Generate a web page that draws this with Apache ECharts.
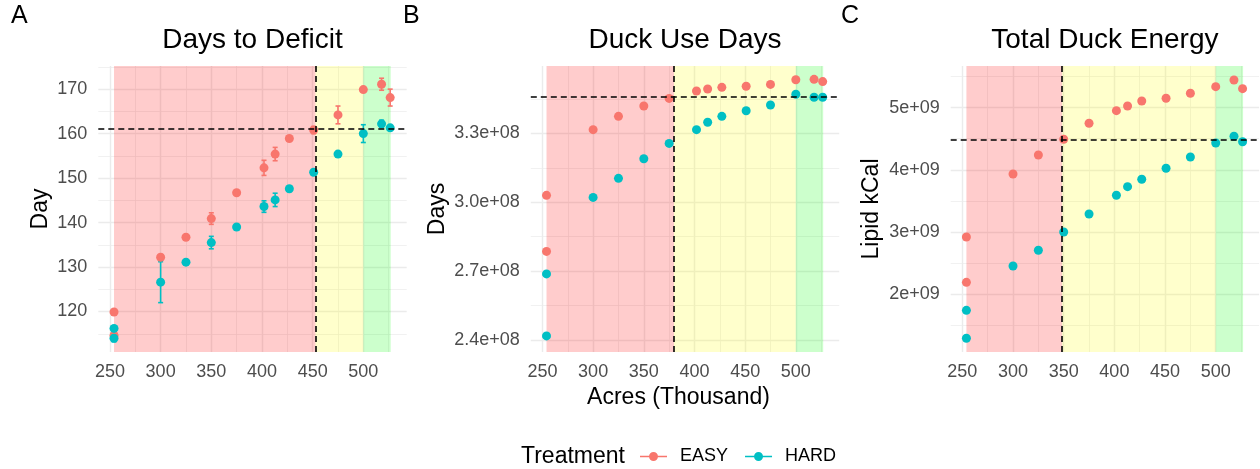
<!DOCTYPE html>
<html><head><meta charset="utf-8">
<script src="https://cdn.jsdelivr.net/npm/echarts@6/dist/echarts.min.js"></script>
<style>html,body{margin:0;padding:0;background:#fff}#c{width:1260px;height:469px}</style>
</head><body><div id="c"></div>
<script>
// ---------- data ----------
const acres = [254, 254, 300, 325, 350, 375, 402, 413, 427, 451, 475, 500, 518, 526.5];

const deficitEasy    = [119.9, 114.6, 132.2, 136.7, 140.9, 146.7, 152.3, 155.4, 158.9, 160.8, 164.2, 169.9, 171.1, 168.1];
const deficitEasyErr = [0.4, 1.0, 0.5, 0.5, 1.3, 0.5, 1.7, 1.5, 0.6, 0.8, 2.0, 0.5, 1.35, 1.9];
const deficitHard    = [116.2, 114.0, 126.6, 131.1, 135.5, 139.0, 143.6, 145.1, 147.6, 151.3, 155.4, 160.0, 162.2, 161.3];
const deficitHardErr = [0.5, 0.8, 4.6, 0.5, 1.4, 0.5, 1.3, 1.5, 0.6, 0.5, 0.5, 2.0, 0.8, 0.5];

const useDaysEasy = [3.030e8, 2.786e8, 3.316e8, 3.374e8, 3.419e8, 3.452e8, 3.484e8, 3.493e8, 3.500e8, 3.505e8, 3.513e8, 3.533e8, 3.535e8, 3.525e8];
const useDaysHard = [2.688e8, 2.418e8, 3.021e8, 3.104e8, 3.189e8, 3.256e8, 3.316e8, 3.348e8, 3.374e8, 3.398e8, 3.423e8, 3.470e8, 3.457e8, 3.457e8];

const energyEasy = [2.918e9, 2.188e9, 3.932e9, 4.238e9, 4.491e9, 4.749e9, 4.952e9, 5.027e9, 5.108e9, 5.151e9, 5.232e9, 5.338e9, 5.446e9, 5.306e9];
const energyHard = [1.737e9, 1.287e9, 2.451e9, 2.704e9, 2.998e9, 3.288e9, 3.589e9, 3.728e9, 3.847e9, 4.024e9, 4.206e9, 4.432e9, 4.539e9, 4.452e9];

// thresholds (dashed lines) and shaded zones
const thresholdX = [452.8, 379.8, 348.5];
const thresholdY = [161.1, 3.459e8, 4.48e9];
const zoneStart = 254, zoneMid = 500, zoneEnd = 527;

// axes
const xRange = [238.5, 542.8];
const xTicks = [250, 300, 350, 400, 450, 500];
const xMinor = [275, 325, 375, 425, 475, 525];
const yRanges = [[110.9, 175.2], [2.348e8, 3.593e8], [1.066e9, 5.671e9]];
const yTicks = [
  [120, 130, 140, 150, 160, 170],
  [2.4e8, 2.7e8, 3.0e8, 3.3e8],
  [2e9, 3e9, 4e9, 5e9]
];
const yTickLabels = [
  ['120', '130', '140', '150', '160', '170'],
  ['2.4e+08', '2.7e+08', '3.0e+08', '3.3e+08'],
  ['2e+09', '3e+09', '4e+09', '5e+09']
];
const yMinor = [
  [115, 125, 135, 145, 155, 165, 175],
  [2.55e8, 2.85e8, 3.15e8, 3.45e8],
  [1.5e9, 2.5e9, 3.5e9, 4.5e9, 5.5e9]
];
const titles = ['Days to Deficit', 'Duck Use Days', 'Total Duck Energy'];
const panelLetters = ['A', 'B', 'C'];
const yNames = ['Day', 'Days', 'Lipid kCal'];
const treatments = ['EASY', 'HARD'];

// ---------- layout / style ----------
const FONT = 'Liberation Sans, Arial, sans-serif';
const COLORS = {EASY: '#F8766D', HARD: '#00BFC4'};
const panels = [
  {left: 98.3, top: 66, width: 308.4, height: 286, yGap: 46, letterX: 11},
  {left: 530.8, top: 66, width: 308.4, height: 286, yGap: 82, letterX: 403},
  {left: 950.7, top: 66, width: 308.4, height: 286, yGap: 68, letterX: 841}
];
const seriesData = [
  [deficitEasy, deficitHard],
  [useDaysEasy, useDaysHard],
  [energyEasy, energyHard]
];
const errData = [[deficitEasyErr, deficitHardErr], null, null];

const grid = panels.map(p => ({left: p.left, top: p.top, width: p.width, height: p.height}));
const xAxis = [], yAxis = [];
panels.forEach((p, i) => {
  xAxis.push({
    type: 'value', gridIndex: i, min: xRange[0], max: xRange[1],
    axisLine: {show: false},
    axisTick: {show: false, customValues: xTicks},
    axisLabel: {customValues: xTicks, fontSize: 18, color: '#4D4D4D', fontFamily: FONT, margin: 11.5},
    splitLine: {show: true, lineStyle: {color: '#EBEBEB', width: 1.4}},
    name: i === 1 ? 'Acres (Thousand)' : '',
    nameLocation: 'middle', nameGap: 32,
    nameTextStyle: {fontSize: 23, color: '#000', fontFamily: FONT, padding: [0, 13, 0, 0]}
  });
  yAxis.push({
    type: 'value', gridIndex: i, min: yRanges[i][0], max: yRanges[i][1],
    axisLine: {show: false},
    axisTick: {show: false, customValues: yTicks[i]},
    axisLabel: {
      customValues: yTicks[i], fontSize: 18, color: '#4D4D4D', fontFamily: FONT, margin: 11,
      formatter: (v) => { const k = yTicks[i].indexOf(v); return k >= 0 ? yTickLabels[i][k] : ''; }
    },
    splitLine: {show: true, lineStyle: {color: '#EBEBEB', width: 1.4}},
    name: yNames[i], nameLocation: 'middle', nameGap: p.yGap,
    nameTextStyle: {fontSize: 23, color: '#000', fontFamily: FONT}
  });
});
// minor grid axes
panels.forEach((p, i) => {
  xAxis.push({
    type: 'value', gridIndex: i, min: xRange[0], max: xRange[1], position: 'bottom',
    axisLine: {show: false}, axisLabel: {show: false},
    axisTick: {show: false, customValues: xMinor},
    splitLine: {show: true, lineStyle: {color: '#EBEBEB', width: 0.7}}
  });
  yAxis.push({
    type: 'value', gridIndex: i, min: yRanges[i][0], max: yRanges[i][1], position: 'left',
    axisLine: {show: false}, axisLabel: {show: false},
    axisTick: {show: false, customValues: yMinor[i]},
    splitLine: {show: true, lineStyle: {color: '#EBEBEB', width: 0.7}}
  });
});

const series = [];
panels.forEach((p, i) => {
  treatments.forEach((t, k) => {
    const vals = seriesData[i][k];
    const s = {
      type: 'scatter', name: t, xAxisIndex: i, yAxisIndex: i, z: 3,
      symbol: 'circle', symbolSize: 9, color: COLORS[t],
      itemStyle: {color: COLORS[t], opacity: 1},
      data: acres.map((x, j) => [x, vals[j]])
    };
    if (k === 0) {
      s.markArea = {
        silent: true,
        data: [
          [{xAxis: zoneStart, itemStyle: {color: 'rgba(255,0,0,0.2)'}}, {xAxis: thresholdX[i]}],
          [{xAxis: thresholdX[i], itemStyle: {color: 'rgba(255,255,0,0.2)'}}, {xAxis: zoneMid}],
          [{xAxis: zoneMid, itemStyle: {color: 'rgba(0,255,0,0.2)'}}, {xAxis: zoneEnd}]
        ]
      };
    }
    if (k === 1) {
      s.markLine = {
        silent: true, symbol: ['none', 'none'], animation: false,
        label: {show: false},
        lineStyle: {color: '#000', width: 1.6, type: [6, 4]},
        emphasis: {disabled: true},
        data: [{xAxis: thresholdX[i]}, {yAxis: thresholdY[i]}]
      };
    }
    series.push(s);
    if (errData[i]) {
      const errs = errData[i][k];
      series.push({
        type: 'custom', name: t, xAxisIndex: i, yAxisIndex: i, z: 2, silent: true,
        color: COLORS[t], itemStyle: {color: COLORS[t]},
        data: acres.map((x, j) => [x, vals[j] - errs[j], vals[j] + errs[j]]),
        encode: {x: 0, y: [1, 2]},
        renderItem: (params, api) => {
          const x = api.value(0);
          const a = api.coord([x, api.value(1)]);
          const b = api.coord([x, api.value(2)]);
          const w = 2.5;
          const st = {stroke: COLORS[t], lineWidth: 1.6};
          return {type: 'group', children: [
            {type: 'line', shape: {x1: a[0], y1: a[1], x2: b[0], y2: b[1]}, style: st},
            {type: 'line', shape: {x1: a[0] - w, y1: a[1], x2: a[0] + w, y2: a[1]}, style: st},
            {type: 'line', shape: {x1: b[0] - w, y1: b[1], x2: b[0] + w, y2: b[1]}, style: st}
          ]};
        }
      });
    }
  });
});

const title = panels.map((p, i) => ({
  text: titles[i], left: p.left + p.width / 2, top: 26, textAlign: 'center', padding: 0,
  textStyle: {fontSize: 28, fontWeight: 'normal', color: '#000', fontFamily: FONT}
}));

const graphic = panels.map((p, i) => ({
  type: 'text', left: p.letterX, top: 4,
  style: {text: panelLetters[i], font: '25px ' + FONT, fill: '#000'}
}));
graphic.push({type: 'text', left: 521, top: 445, style: {text: 'Treatment', font: '23px ' + FONT, fill: '#000'}});

const legendIcon = 'path://M0,4.2L10,4.2L10,5.8L0,5.8Z M17,4.2L27,4.2L27,5.8L17,5.8Z M13.5,0.5A4.5,4.5,0,1,1,13.5,9.5A4.5,4.5,0,1,1,13.5,0.5Z';

const chart = echarts.init(document.getElementById('c'), null, {renderer: 'canvas'});
chart.setOption({
  backgroundColor: '#fff',
  animation: false,
  title, grid, xAxis, yAxis, series, graphic,
  legend: {
    data: treatments.map(t => ({name: t, itemStyle: {color: COLORS[t]}})),
    left: 640, top: 447.5, padding: 0,
    icon: legendIcon, itemWidth: 27, itemHeight: 10, itemGap: 17,
    selectedMode: false,
    textStyle: {fontSize: 18, color: '#000', fontFamily: FONT, padding: [0, 0, 0, 8]}
  }
});
</script></body></html>
